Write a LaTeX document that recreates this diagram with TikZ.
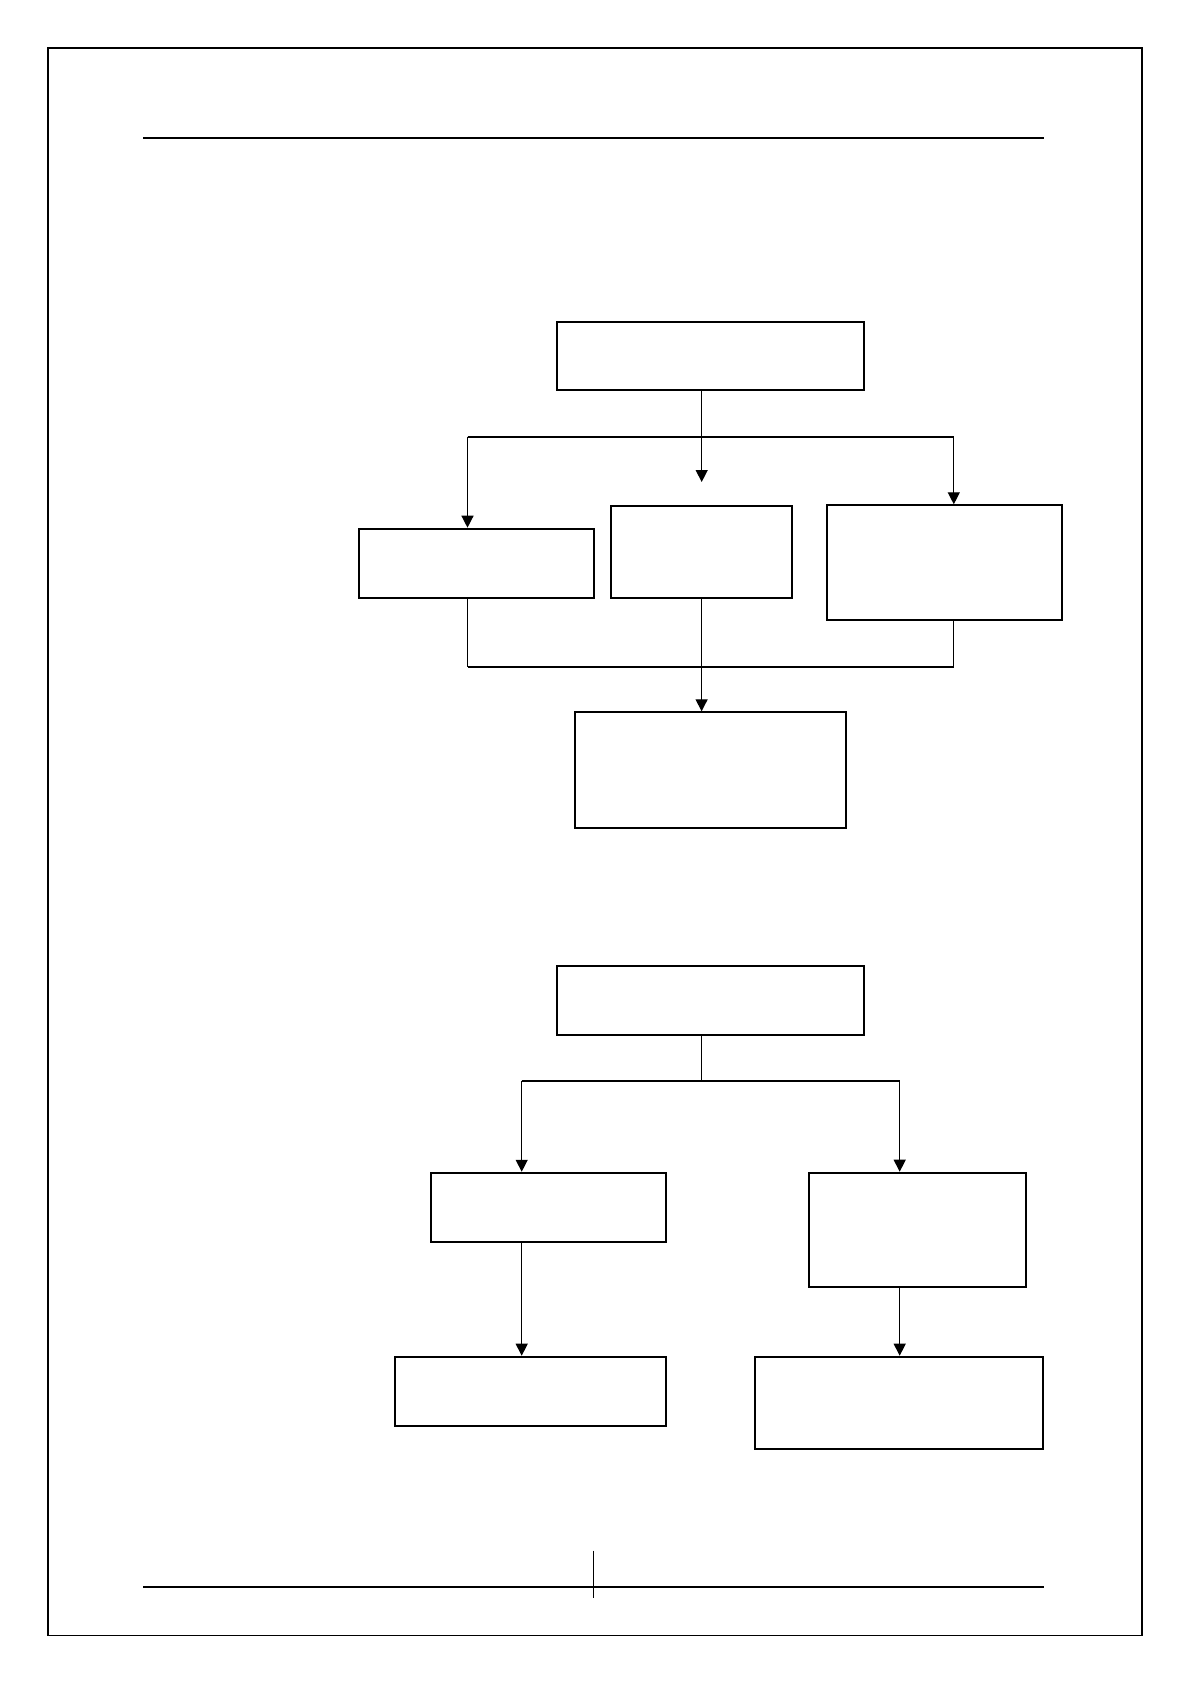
\documentclass[tikz,border=0pt]{standalone}
\usepackage{tikz}
\usetikzlibrary{arrows.meta}
\tikzstyle{box} = [draw,shape=rectangle,line width=2pt,inner sep=0pt]
\tikzstyle{link} = [line width=1.3pt]
\tikzstyle{arrowlink} = [line width=1.3pt,-{Triangle[width=12pt,length=12pt]}]
\tikzstyle{branch} = [line width=2pt]

\begin{document}
\begin{tikzpicture}[x=1pt,y=-1pt]
\useasboundingbox (0,0) rectangle (1190,1684);
% page frame and rules
\draw[line width=1.2pt] (48,48) rectangle (1142,1635.3);
\draw[line width=2pt] (143.3,137.7) -- (1044.4,137.7);
\draw[line width=2.2pt] (143.3,1586.7) -- (1044.4,1586.7);
\draw[line width=1.2pt] (593.3,1550.7) -- (593.3,1597.7);

% first chart
\node[box,minimum width=306.7pt,minimum height=68.5pt] (a1) at (710.6,356.2) {};
\node[box,minimum width=234.2pt,minimum height=69pt]   (b1) at (476.4,563.2) {};
\node[box,minimum width=180.5pt,minimum height=92.5pt] (c1) at (701.6,551.8) {};
\node[box,minimum width=234.4pt,minimum height=115pt]  (d1) at (944.5,562.8) {};
\node[box,minimum width=270.4pt,minimum height=115.4pt] (e1) at (710.5,770) {};

\coordinate (s1) at (701.7,482);
\coordinate (bl1) at (467.5,436.7);
\coordinate (br1) at (953.8,436.7);
\coordinate (ml1) at (467.5,666.5);
\coordinate (mr1) at (953.8,666.5);

\draw[arrowlink] (a1.south -| s1) -- (s1);
\draw[branch] (bl1) -- (br1);
\draw[arrowlink] (bl1) -- (b1.north -| bl1);
\draw[arrowlink] (br1) -- (d1.north -| br1);
\draw[link] (b1.south -| ml1) -- (ml1);
\draw[link] (d1.south -| mr1) -- (mr1);
\draw[branch] (ml1) -- (mr1);
\draw[arrowlink] (c1.south) -- (c1.south |- e1.north);

% second chart
\node[box,minimum width=306.7pt,minimum height=68.7pt] (a2) at (710.6,1000.4) {};
\node[box,minimum width=234.4pt,minimum height=69.3pt] (b2) at (548.5,1207.4) {};
\node[box,minimum width=216.4pt,minimum height=114.6pt] (c2) at (917.5,1230) {};
\node[box,minimum width=270.4pt,minimum height=69pt]   (d2) at (530.5,1391.2) {};
\node[box,minimum width=288pt,minimum height=92pt]     (e2) at (899.3,1402.7) {};

\coordinate (s2) at (701.5,1080.7);
\coordinate (bl2) at (521.7,1080.7);
\coordinate (br2) at (899.7,1080.7);

\draw[link] (a2.south -| s2) -- (s2);
\draw[branch] (bl2) -- (br2);
\draw[arrowlink] (bl2) -- (b2.north -| bl2);
\draw[arrowlink] (br2) -- (c2.north -| br2);
\draw[arrowlink] (b2.south -| bl2) -- (d2.north -| bl2);
\draw[arrowlink] (c2.south -| br2) -- (e2.north -| br2);
\end{tikzpicture}
\end{document}
